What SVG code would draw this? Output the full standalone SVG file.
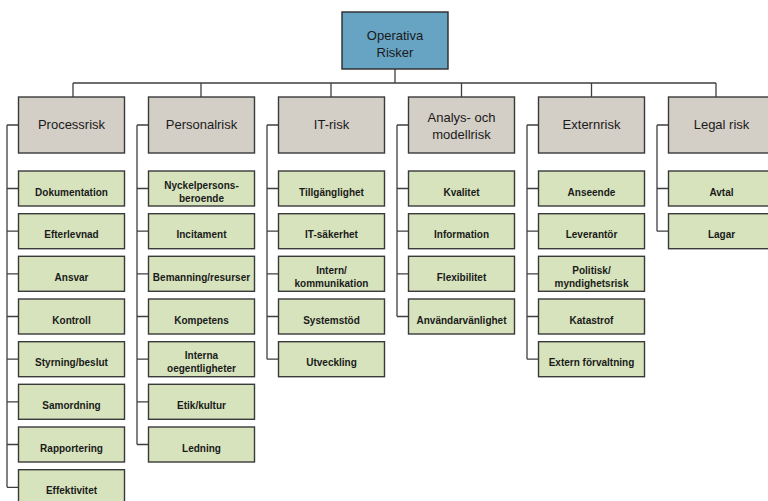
<svg xmlns="http://www.w3.org/2000/svg" width="768" height="501" viewBox="0 0 768 501">
<style>
.top{fill:#67A3C2;stroke:#2b2b2b;stroke-width:1.4}
.hdr{fill:#D3CEC6;stroke:#3a3a3a;stroke-width:1.4}
.ch{fill:#D6E3BC;stroke:#3a3a3a;stroke-width:1.4}
.ht{font-family:"Liberation Sans",Arial,sans-serif;font-size:13px;fill:#1a1a1a;text-anchor:middle}
.ct{font-family:"Liberation Sans",Arial,sans-serif;font-size:10px;font-weight:bold;fill:#1a1a1a;text-anchor:middle}
.con{fill:none;stroke:#3f3f3f;stroke-width:1.3}
</style>
<rect width="768" height="501" fill="#ffffff"/>
<g id="connectors" class="con">
<path d="M395 69V83M73 83H716M73 83V97M201 83V97M331 83V97M461.5 83V97M591.5 83V97M716 83V97"/>
<path d="M7 125H18.5M7 125V487.3M7 188.5H18.5M7 231.2H18.5M7 273.8H18.5M7 316.5H18.5M7 359.2H18.5M7 401.8H18.5M7 444.5H18.5M7 487.3H18.5"/>
<path d="M137 125H148.5M137 125V444.5M137 188.5H148.5M137 231.2H148.5M137 273.8H148.5M137 316.5H148.5M137 359.2H148.5M137 401.8H148.5M137 444.5H148.5"/>
<path d="M267 125H278.5M267 125V359.2M267 188.5H278.5M267 231.2H278.5M267 273.8H278.5M267 316.5H278.5M267 359.2H278.5"/>
<path d="M397 125H408.5M397 125V316.5M397 188.5H408.5M397 231.2H408.5M397 273.8H408.5M397 316.5H408.5"/>
<path d="M527 125H538.5M527 125V359.2M527 188.5H538.5M527 231.2H538.5M527 273.8H538.5M527 316.5H538.5M527 359.2H538.5"/>
<path d="M657 125H668.5M657 125V231.2M657 188.5H668.5M657 231.2H668.5"/>
</g>
<g id="operativa-risker"><rect class="top" x="342" y="12" width="106" height="57"/><text class="ht" x="395" y="40">Operativa</text><text class="ht" x="395" y="57">Risker</text></g>
<g id="processrisk"><rect class="hdr" x="18.5" y="97" width="106" height="56"/><text class="ht" x="71.5" y="129">Processrisk</text></g>
<g id="personalrisk"><rect class="hdr" x="148.5" y="97" width="106" height="56"/><text class="ht" x="201.5" y="129">Personalrisk</text></g>
<g id="it-risk"><rect class="hdr" x="278.5" y="97" width="106" height="56"/><text class="ht" x="331.5" y="129">IT-risk</text></g>
<g id="analys"><rect class="hdr" x="408.5" y="97" width="106" height="56"/><text class="ht" x="461.5" y="122">Analys- och</text><text class="ht" x="461.5" y="139">modellrisk</text></g>
<g id="externrisk"><rect class="hdr" x="538.5" y="97" width="106" height="56"/><text class="ht" x="591.5" y="129">Externrisk</text></g>
<g id="legal-risk"><rect class="hdr" x="668.5" y="97" width="106" height="56"/><text class="ht" x="721.5" y="129">Legal risk</text></g>

<g id="dokumentation"><rect class="ch" x="18.5" y="171" width="106" height="35"/><text class="ct" x="71.5" y="195.5">Dokumentation</text></g>
<g id="efterlevnad"><rect class="ch" x="18.5" y="213.7" width="106" height="35"/><text class="ct" x="71.5" y="238.2">Efterlevnad</text></g>
<g id="ansvar"><rect class="ch" x="18.5" y="256.3" width="106" height="35"/><text class="ct" x="71.5" y="280.8">Ansvar</text></g>
<g id="kontroll"><rect class="ch" x="18.5" y="299" width="106" height="35"/><text class="ct" x="71.5" y="323.5">Kontroll</text></g>
<g id="styrning"><rect class="ch" x="18.5" y="341.7" width="106" height="35"/><text class="ct" x="71.5" y="366.2">Styrning/beslut</text></g>
<g id="samordning"><rect class="ch" x="18.5" y="384.3" width="106" height="35"/><text class="ct" x="71.5" y="408.8">Samordning</text></g>
<g id="rapportering"><rect class="ch" x="18.5" y="427" width="106" height="35"/><text class="ct" x="71.5" y="451.5">Rapportering</text></g>
<g id="effektivitet"><rect class="ch" x="18.5" y="469.7" width="106" height="35"/><text class="ct" x="71.5" y="494.2">Effektivitet</text></g>

<g id="nyckelpersons"><rect class="ch" x="148.5" y="171" width="106" height="35"/><text class="ct" x="201.5" y="188.5">Nyckelpersons-</text><text class="ct" x="201.5" y="201.5">beroende</text></g>
<g id="incitament"><rect class="ch" x="148.5" y="213.7" width="106" height="35"/><text class="ct" x="201.5" y="238.2">Incitament</text></g>
<g id="bemanning"><rect class="ch" x="148.5" y="256.3" width="106" height="35"/><text class="ct" x="201.5" y="280.8">Bemanning/resurser</text></g>
<g id="kompetens"><rect class="ch" x="148.5" y="299" width="106" height="35"/><text class="ct" x="201.5" y="323.5">Kompetens</text></g>
<g id="interna"><rect class="ch" x="148.5" y="341.7" width="106" height="35"/><text class="ct" x="201.5" y="359.2">Interna</text><text class="ct" x="201.5" y="372.2">oegentligheter</text></g>
<g id="etik"><rect class="ch" x="148.5" y="384.3" width="106" height="35"/><text class="ct" x="201.5" y="408.8">Etik/kultur</text></g>
<g id="ledning"><rect class="ch" x="148.5" y="427" width="106" height="35"/><text class="ct" x="201.5" y="451.5">Ledning</text></g>

<g id="tillganglighet"><rect class="ch" x="278.5" y="171" width="106" height="35"/><text class="ct" x="331.5" y="195.5">Tillgänglighet</text></g>
<g id="it-sakerhet"><rect class="ch" x="278.5" y="213.7" width="106" height="35"/><text class="ct" x="331.5" y="238.2">IT-säkerhet</text></g>
<g id="intern"><rect class="ch" x="278.5" y="256.3" width="106" height="35"/><text class="ct" x="331.5" y="273.8">Intern/</text><text class="ct" x="331.5" y="286.8">kommunikation</text></g>
<g id="systemstod"><rect class="ch" x="278.5" y="299" width="106" height="35"/><text class="ct" x="331.5" y="323.5">Systemstöd</text></g>
<g id="utveckling"><rect class="ch" x="278.5" y="341.7" width="106" height="35"/><text class="ct" x="331.5" y="366.2">Utveckling</text></g>

<g id="kvalitet"><rect class="ch" x="408.5" y="171" width="106" height="35"/><text class="ct" x="461.5" y="195.5">Kvalitet</text></g>
<g id="information"><rect class="ch" x="408.5" y="213.7" width="106" height="35"/><text class="ct" x="461.5" y="238.2">Information</text></g>
<g id="flexibilitet"><rect class="ch" x="408.5" y="256.3" width="106" height="35"/><text class="ct" x="461.5" y="280.8">Flexibilitet</text></g>
<g id="anvandarvanlighet"><rect class="ch" x="408.5" y="299" width="106" height="35"/><text class="ct" x="461.5" y="323.5">Användarvänlighet</text></g>

<g id="anseende"><rect class="ch" x="538.5" y="171" width="106" height="35"/><text class="ct" x="591.5" y="195.5">Anseende</text></g>
<g id="leverantor"><rect class="ch" x="538.5" y="213.7" width="106" height="35"/><text class="ct" x="591.5" y="238.2">Leverantör</text></g>
<g id="politisk"><rect class="ch" x="538.5" y="256.3" width="106" height="35"/><text class="ct" x="591.5" y="273.8">Politisk/</text><text class="ct" x="591.5" y="286.8">myndighetsrisk</text></g>
<g id="katastrof"><rect class="ch" x="538.5" y="299" width="106" height="35"/><text class="ct" x="591.5" y="323.5">Katastrof</text></g>
<g id="extern-forvaltning"><rect class="ch" x="538.5" y="341.7" width="106" height="35"/><text class="ct" x="591.5" y="366.2">Extern förvaltning</text></g>

<g id="avtal"><rect class="ch" x="668.5" y="171" width="106" height="35"/><text class="ct" x="721.5" y="195.5">Avtal</text></g>
<g id="lagar"><rect class="ch" x="668.5" y="213.7" width="106" height="35"/><text class="ct" x="721.5" y="238.2">Lagar</text></g>
</svg>
